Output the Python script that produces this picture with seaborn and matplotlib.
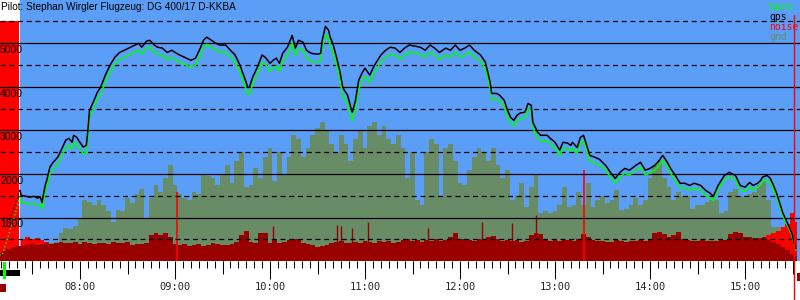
import numpy as np
import matplotlib
matplotlib.use("Agg")
import matplotlib.pyplot as plt
import matplotlib.transforms as mtransforms
from matplotlib.patches import Rectangle
from matplotlib.ticker import MultipleLocator
import seaborn as sns

# ---------------- data ----------------
title = "Pilot: Stephan Wirgler Flugzeug: DG 400/17 D-KKBA"
legend_labels = ["baro", "gps", "noise", "gnd"]

flight_times = [
    "07:22", "07:23", "07:26", "07:28", "07:31", "07:33", "07:35", "07:36", "07:38", "07:39",
    "07:41", "07:43", "07:46", "07:49", "07:51", "07:53", "07:55", "07:56", "07:58", "07:59",
    "08:02", "08:04", "08:05", "08:06", "08:08", "08:11", "08:13", "08:16", "08:19", "08:22",
    "08:25", "08:28", "08:32", "08:35", "08:37", "08:39", "08:42", "08:44", "08:47", "08:49",
    "08:52", "08:55", "08:58", "09:00", "09:03", "09:06", "09:10", "09:13", "09:16", "09:18",
    "09:20", "09:23", "09:25", "09:28", "09:32", "09:35", "09:38", "09:41", "09:44", "09:46",
    "09:47", "09:49", "09:52", "09:55", "09:57", "10:00", "10:02", "10:04", "10:06", "10:08",
    "10:11", "10:14", "10:16", "10:18", "10:21", "10:23", "10:26", "10:30", "10:32", "10:33",
    "10:35", "10:37", "10:38", "10:40", "10:42", "10:44", "10:46", "10:47", "10:49", "10:51",
    "10:52", "10:54", "10:56", "10:58", "11:00", "11:03", "11:06", "11:10", "11:13", "11:16",
    "11:19", "11:22", "11:25", "11:28", "11:32", "11:35", "11:38", "11:41", "11:44", "11:47",
    "11:51", "11:54", "11:57", "12:00", "12:03", "12:06", "12:09", "12:13", "12:16", "12:19",
    "12:20", "12:23", "12:25", "12:28", "12:30", "12:32", "12:34", "12:36", "12:38", "12:41",
    "12:43", "12:45", "12:46", "12:49", "12:51", "12:55", "12:57", "13:00", "13:03", "13:05",
    "13:08", "13:10", "13:11", "13:14", "13:16", "13:18", "13:20", "13:22", "13:25", "13:28",
    "13:32", "13:35", "13:38", "13:41", "13:44", "13:47", "13:51", "13:54", "13:57", "14:00",
    "14:03", "14:06", "14:08", "14:11", "14:13", "14:16", "14:19", "14:22", "14:25", "14:28",
    "14:32", "14:35", "14:38", "14:40", "14:43", "14:47", "14:50", "14:54", "14:57", "15:00",
    "15:03", "15:05", "15:08", "15:10", "15:11", "15:14", "15:16", "15:18", "15:20", "15:22",
    "15:24", "15:26", "15:28", "15:30", "15:31", "15:32",
]
gps_alt = [
    1630, 1510, 1490, 1470, 1490, 1450, 1470, 1350, 1740, 1860,
    2160, 2270, 2390, 2620, 2780, 2820, 2730, 2890, 2840, 2780,
    2620, 2660, 3010, 3460, 3620, 3880, 3990, 4270, 4500, 4680,
    4790, 4840, 4910, 4960, 5000, 4910, 5050, 5070, 4960, 4910,
    4890, 4790, 4840, 4790, 4730, 4680, 4610, 4660, 4890, 5070,
    5140, 5070, 5020, 4960, 4960, 4840, 4730, 4500, 4200, 3990,
    3990, 4220, 4450, 4730, 4680, 4540, 4610, 4660, 4540, 4770,
    4910, 5180, 4890, 5070, 5020, 4840, 4770, 4750, 4770, 5070,
    5390, 5300, 5140, 4960, 4680, 4380, 3990, 3920, 3810, 3530,
    3420, 3690, 4150, 4310, 4430, 4270, 4500, 4730, 4840, 4910,
    4890, 4790, 4890, 4960, 4930, 4910, 4840, 4960, 4890, 4790,
    4890, 4840, 4960, 4840, 4890, 4960, 4840, 4730, 4570, 4110,
    3850, 3850, 3810, 3690, 3460, 3300, 3230, 3350, 3400, 3420,
    3620, 3580, 3190, 2960, 2890, 2890, 2820, 2730, 2550, 2730,
    2710, 2660, 2730, 2610, 2840, 2890, 2660, 2430, 2390, 2340,
    2200, 2040, 1900, 2040, 2130, 2090, 2200, 2270, 2090, 2130,
    2200, 2320, 2430, 2270, 2130, 1970, 1790, 1790, 1740, 1790,
    1740, 1630, 1560, 1490, 1740, 1970, 2040, 1970, 1740, 1700,
    1810, 1740, 1790, 1860, 1930, 1970, 1900, 1740, 1560, 1330,
    1100, 940, 780, 600, 410, 300,
]
baro_alt = [
    1470, 1350, 1330, 1310, 1330, 1290, 1310, 1190, 1580, 1700,
    2000, 2110, 2230, 2460, 2620, 2660, 2570, 2730, 2680, 2620,
    2460, 2500, 2850, 3300, 3460, 3720, 3830, 4110, 4340, 4520,
    4630, 4680, 4750, 4800, 4840, 4750, 4890, 4910, 4800, 4750,
    4730, 4630, 4680, 4630, 4570, 4520, 4450, 4500, 4730, 4910,
    4980, 4910, 4860, 4800, 4800, 4680, 4570, 4340, 4040, 3830,
    3830, 4060, 4290, 4570, 4520, 4360, 4430, 4480, 4360, 4590,
    4730, 5000, 4710, 4890, 4840, 4660, 4590, 4570, 4590, 4890,
    5200, 5110, 4950, 4770, 4490, 4190, 3800, 3730, 3620, 3340,
    3230, 3500, 3960, 4120, 4250, 4100, 4330, 4570, 4680, 4750,
    4730, 4630, 4730, 4800, 4770, 4750, 4680, 4800, 4730, 4630,
    4730, 4680, 4800, 4680, 4730, 4800, 4690, 4580, 4420, 3970,
    3710, 3710, 3680, 3560, 3330, 3170, 3100, 3220, 3270, 3290,
    3490, 3450, 3060, 2830, 2760, 2760, 2690, 2600, 2420, 2600,
    2580, 2530, 2600, 2480, 2710, 2760, 2530, 2300, 2260, 2210,
    2090, 1930, 1790, 1930, 2020, 1980, 2090, 2160, 1980, 2020,
    2090, 2210, 2320, 2160, 2020, 1860, 1680, 1680, 1630, 1680,
    1630, 1520, 1450, 1390, 1640, 1870, 1940, 1870, 1640, 1600,
    1710, 1640, 1690, 1760, 1830, 1870, 1800, 1640, 1470, 1250,
    1030, 880, 730, 560, 380, 250,
]

# launch (engine) phase, drawn dotted
pre_times = ["07:09", "07:11", "07:14", "07:17", "07:20", "07:22"]
pre_baro = [150, 150, 500, 850, 1200, 1470]
pre_gps = [np.nan, np.nan, 800, 1100, 1400, 1630]

# regularly sampled ground elevation and noise level (3-minute steps from 07:09)
grid_start = "07:09"
grid_step_min = 3
gnd_alt = [
    150, 150, 150, 150, 150,
    300, 300, 320, 300, 350, 400, 420, 450, 650, 760,
    750, 800, 1000, 1400, 1350, 1300, 1400, 1300, 1150, 900,
    1170, 1150, 1450, 1330, 1550, 1650, 980, 1450, 1750, 1600,
    1900, 2200, 1750, 1550, 1450, 1400, 1600, 1550, 2000, 1950,
    1900, 1750, 2000, 2200, 1800, 2300, 2500, 1700, 1750, 2150,
    1900, 2400, 2600, 1850, 2500, 2000, 2400, 2900, 2800, 2400,
    2600, 2900, 3050, 3200, 3000, 2700, 2500, 2900, 2700, 2300,
    2800, 3000, 2600, 3100, 3200, 2900, 3100, 2800, 2700, 2900,
    2600, 1900, 2500, 1400, 1300, 2500, 2800, 2700, 1500, 2600,
    2700, 2300, 1800, 1750, 2100, 2400, 2600, 2500, 2300, 2600,
    2200, 1900, 2100, 1400, 1500, 1800, 1250, 1700, 2000, 1100,
    1150, 1100, 1150, 1300, 1700, 1250, 1300, 1600, 1300, 1800,
    1250, 1400, 1500, 1330, 1400, 1630, 1170, 1200, 1300, 1450,
    1300, 1400, 1900, 2200, 2300, 1900, 1700, 1400, 1600, 1500,
    1500, 1200, 1300, 1280, 1350, 1400, 1400, 1100, 1150, 1600,
    1650, 1500, 1450, 1550, 1600, 1750, 1850, 1400, 780, 780,
    640, 600, 400, 300,
]
noise_lvl = [
    200, 240, 280, 320, 350,
    350, 380, 400, 380, 400, 420, 400, 420, 450, 430,
    420, 440, 400, 450, 420, 400, 430, 420, 400, 450,
    430, 410, 440, 380, 400, 400, 420, 600, 650, 600,
    650, 550, 400, 380, 400, 360, 380, 400, 360, 380,
    420, 400, 380, 370, 400, 450, 600, 700, 450, 420,
    650, 650, 430, 500, 430, 450, 480, 500, 500, 430,
    400, 380, 330, 350, 380, 430, 450, 470, 430, 420,
    450, 430, 470, 450, 430, 470, 440, 460, 430, 450,
    480, 500, 470, 480, 450, 480, 470, 500, 470, 480,
    560, 640, 520, 500, 480, 470, 500, 480, 560, 580,
    520, 460, 480, 470, 480, 450, 470, 600, 650, 620,
    500, 470, 480, 470, 490, 480, 470, 500, 620, 560,
    480, 460, 470, 450, 440, 480, 460, 450, 470, 460,
    480, 470, 500, 650, 680, 620, 560, 600, 680, 520,
    480, 470, 460, 480, 470, 460, 470, 480, 480, 620,
    680, 650, 560, 560, 540, 540, 560, 480, 450, 400,
    320, 260, 170, 120,
]
noise_high = [
    0, 0, 0, 0, 0,
    520, 550, 500, 530, 480, 450, 0, 0, 0, 0,
    0, 0, 0, 0, 0, 0, 0, 0, 0, 0,
    0, 0, 0, 0, 0, 0, 0, 0, 0, 0,
    0, 0, 0, 0, 0, 0, 0, 0, 0, 0,
    0, 0, 0, 0, 0, 0, 0, 0, 0, 0,
    0, 0, 0, 0, 0, 0, 0, 0, 0, 0,
    0, 0, 0, 0, 0, 0, 0, 0, 0, 0,
    0, 0, 0, 0, 0, 0, 0, 0, 0, 0,
    0, 0, 0, 0, 0, 0, 0, 0, 0, 0,
    0, 0, 0, 0, 0, 0, 0, 0, 0, 0,
    0, 0, 0, 0, 0, 0, 0, 0, 0, 0,
    0, 0, 0, 0, 0, 0, 0, 0, 0, 0,
    0, 0, 0, 0, 0, 0, 0, 0, 0, 0,
    0, 0, 0, 0, 0, 0, 0, 0, 0, 0,
    0, 0, 0, 0, 0, 0, 0, 0, 0, 0,
    0, 0, 0, 0, 0, 0, 0, 600, 650, 700,
    780, 850, 1100, 900,
]
noise_peak_times = ["09:01", "13:18"]
noise_peak_vals = [1580, 2090]
noise_spike_times = ["10:02", "10:42", "10:45", "10:52", "11:02", "11:40", "12:14", "12:33", "12:48"]
noise_spike_vals = [810, 830, 810, 760, 900, 760, 900, 880, 1060]

engine_zone = ("07:09", "07:22")
engine_zone_top = 5500
end_marker = "15:31"
hour_labels = ["08:00", "09:00", "10:00", "11:00", "12:00", "13:00", "14:00", "15:00"]
alt_labels = [1000, 2000, 3000, 4000, 5000]
alt_dashed = [500, 1500, 2500, 3500, 4500, 5500]

# ---------------- helpers ----------------
def hrs(s):
    h, m = s.split(":")
    return int(h) + int(m) / 60.0

t_flight = np.array([hrs(s) for s in flight_times])
t_pre = np.array([hrs(s) for s in pre_times])
t_grid = hrs(grid_start) + np.arange(len(gnd_alt)) * grid_step_min / 60.0

# colours
BLUE = "#5a9ef8"
GND = "#688c66"
DARKRED = "#990000"
RED = "#ff0000"
GREEN = "#00ff00"

X0, X1 = 7.1579, 15.5789
Y0, Y1 = 0, 5993
PX_H = (X1 - X0) / 800.0  # hours per pixel

sns.set_style("white")
plt.rcParams["font.family"] = ["DejaVu Sans"]

fig = plt.figure(figsize=(8, 3), dpi=100)
fig.patch.set_facecolor("white")
ax = fig.add_axes([0, 0.129, 1, 0.871])
ax.set_facecolor("white")
ax.set_xlim(X0, X1)
ax.set_ylim(Y0, Y1)

# background zones
ax.axvspan(hrs(engine_zone[1]) + 0.6 * PX_H, X1, color=BLUE, lw=0, zorder=0)
ax.fill_between([hrs(engine_zone[0]) - 1, hrs(engine_zone[1]) - 0.4 * PX_H],
                0, engine_zone_top, color=RED, lw=0, zorder=0.5)

# ground and noise
ax.fill_between(t_grid, gnd_alt, 0, step="mid", color=GND, lw=0, zorder=1)
ax.fill_between(t_grid, noise_high, 0, step="mid", color=RED, lw=0, zorder=1.5)
ax.fill_between(t_grid, noise_lvl, 0, step="mid", color=DARKRED, lw=0, zorder=2)
ax.vlines([hrs(s) for s in noise_spike_times], 0, noise_spike_vals,
          color=DARKRED, lw=1.0, zorder=2)
ax.vlines([hrs(s) for s in noise_peak_times], 0, noise_peak_vals,
          color=RED, lw=1.2, zorder=2.5)

# grid
for v in alt_labels:
    ax.axhline(v, color="black", lw=0.9, zorder=3)
for v in alt_dashed:
    ax.axhline(v, color="black", lw=0.9, ls=(0, (4, 3)), zorder=3)

# traces
sns.lineplot(x=t_pre, y=pre_baro, color=GREEN, lw=1.0, ls=":", estimator=None,
             sort=False, ax=ax, zorder=4)
sns.lineplot(x=t_pre, y=pre_gps, color="black", lw=1.0, ls=":", estimator=None,
             sort=False, ax=ax, zorder=4)
sns.lineplot(x=t_flight, y=baro_alt, color=GREEN, lw=1.1, estimator=None,
             sort=False, ax=ax, zorder=4)
sns.lineplot(x=t_flight, y=gps_alt, color="black", lw=1.1, estimator=None,
             sort=False, ax=ax, zorder=4.5)

# end marker line extending below the axis
trans_x = mtransforms.blended_transform_factory(ax.transData, ax.transAxes)
ax.plot([hrs(end_marker)] * 2, [5650 / Y1, -38.0 / 261.3], color=RED, lw=1.0,
        transform=trans_x, clip_on=False, zorder=6)

# y labels inside the plot
trans_y = mtransforms.blended_transform_factory(ax.transAxes, ax.transData)
for v in alt_labels:
    ax.annotate(str(v), xy=(0, v), xycoords=trans_y, xytext=(0, -1.2),
                textcoords="offset points", ha="left", va="top", fontsize=7.5,
                family="Liberation Sans", color="black", zorder=7)

# x axis ticks
ax.set_yticks([])
ax.set_xticks([hrs(s) for s in hour_labels])
ax.set_xticklabels(hour_labels, family="DejaVu Sans Mono", fontsize=7.5)
ax.xaxis.set_minor_locator(MultipleLocator(5 / 60.0))
ax.tick_params(axis="x", which="major", length=13, width=0.75, pad=2,
               direction="out", color="black", bottom=True)
ax.tick_params(axis="x", which="minor", length=5, width=0.75,
               direction="out", color="black", bottom=True)
half_hours = [hrs(s) + 0.5 for s in hour_labels] + [hrs(hour_labels[0]) - 0.5]
ax.vlines(half_hours, 0, -13.0 / 261.3, transform=trans_x, color="black",
          lw=0.75, clip_on=False)
for sp in ax.spines.values():
    sp.set_visible(False)

# title and legend
fig.text(1 / 800, 1 - 7 / 300, title, ha="left", va="center", fontsize=7.2,
         family="Liberation Sans", color="black")
leg_colors = [GREEN, "black", RED, GND]
for i, (lab, c) in enumerate(zip(legend_labels, leg_colors)):
    fig.text(769 / 800, 1 - (7 + 10 * i) / 300, lab, ha="left", va="center",
             fontsize=7, family="DejaVu Sans Mono", color=c)

# small status marks under the plot
fig.add_artist(Rectangle((0, 1 - 276 / 300), 20 / 800, 6 / 300,
                         transform=fig.transFigure, color="black", lw=0))
fig.add_artist(Rectangle((3 / 800, 1 - 279 / 300), 3 / 800, 17 / 300,
                         transform=fig.transFigure, color=GREEN, lw=0))
fig.add_artist(Rectangle((0, 1 - 292 / 300), 6 / 800, 8 / 300,
                         transform=fig.transFigure, color=DARKRED, lw=0))
fig.add_artist(Rectangle((797 / 800, 1 - 281 / 300), 3 / 800, 8 / 300,
                         transform=fig.transFigure, color=DARKRED, lw=0))

fig.savefig("out.png", dpi=100)
